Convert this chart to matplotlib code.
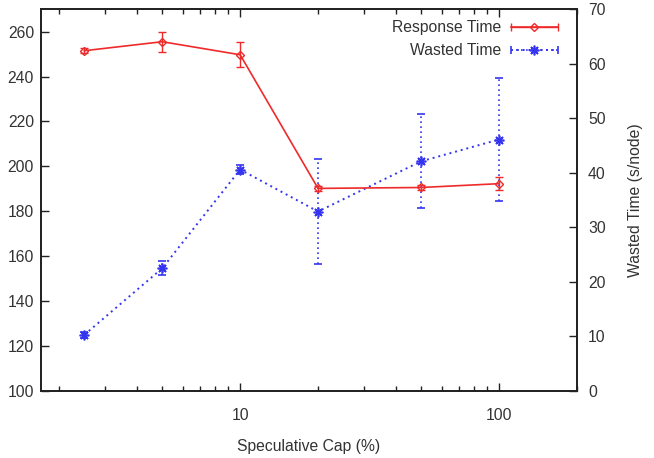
import matplotlib
matplotlib.use("Agg")
import numpy as np
import matplotlib.pyplot as plt
from matplotlib.ticker import LogLocator, FixedLocator, NullFormatter, FixedFormatter
from matplotlib.legend_handler import HandlerErrorbar

plt.rcParams['font.family'] = ['Liberation Sans', 'DejaVu Sans']

caps = [2.5, 5, 10, 20, 50, 100]
response = [251.5, 255.5, 249.7, 190.2, 190.6, 192.3]
response_err = [1.2, 4.4, 5.5, 1.0, 1.0, 2.8]
wasted = [10.3, 22.5, 40.6, 32.9, 42.1, 46.1]
wasted_err = [0.6, 1.3, 0.8, 9.7, 8.6, 11.2]

red = '#ee2a2a'
blue = '#3535f0'
txt = '#333333'
dot = (0, (1, 2))
fs = 11.3

fig = plt.figure(figsize=(6.54, 4.58), dpi=100)
ax = fig.add_axes([0.0627, 0.1463, 0.8193, 0.8337])
ax2 = ax.twinx()

red_style = dict(color=red, lw=1.2, marker='D', ms=4, mfc='none', mec=red, mew=1.0,
                 capsize=3, capthick=1.0, elinewidth=1.0)
blue_style = dict(color=blue, lw=1.4, ls=dot, marker=(8, 2, 0), ms=7, mec=blue, mew=1.2,
                  capsize=3, capthick=1.0, elinewidth=1.2)

l1 = ax.errorbar(caps, response, yerr=response_err, **red_style)
l2 = ax2.errorbar(caps, wasted, yerr=wasted_err, **blue_style)
for bar in l2[2]:
    bar.set_linestyle(dot)

# legend handles drawn gnuplot-style (horizontal bar with end caps)
h1 = ax.errorbar([np.nan], [np.nan], xerr=[1], **red_style)
h2 = ax.errorbar([np.nan], [np.nan], xerr=[1], **blue_style)
for bar in h2[2]:
    bar.set_linestyle(dot)

ax.set_xscale('log')
ax.set_xlim(1.7, 200)
ax.set_ylim(100, 270)
ax2.set_ylim(0, 70)

ax.set_yticks([100, 120, 140, 160, 180, 200, 220, 240, 260])
ax2.set_yticks([0, 10, 20, 30, 40, 50, 60, 70])
ax.xaxis.set_major_locator(FixedLocator([10, 100]))
ax.xaxis.set_major_formatter(FixedFormatter(['10', '100']))
ax.xaxis.set_minor_locator(LogLocator(base=10, subs=range(2, 10)))
ax.xaxis.set_minor_formatter(NullFormatter())

for a in (ax, ax2):
    for s in a.spines.values():
        s.set_color('#222222')
        s.set_linewidth(1.3)

ax.tick_params(axis='x', which='both', direction='in', top=True, bottom=True,
               colors='#222222', labelcolor=txt, labelsize=fs, pad=12)
ax.tick_params(axis='x', which='major', length=6, width=1.0)
ax.tick_params(axis='x', which='minor', length=3.5, width=1.0)
ax.tick_params(axis='y', which='major', direction='in', left=True, right=False,
               length=6, width=1.0, colors='#222222', labelcolor=txt, labelsize=fs, pad=5)
ax2.tick_params(axis='y', which='major', direction='in', right=True, left=False,
                length=6, width=1.0, colors='#222222', labelcolor=txt, labelsize=fs, pad=8)
ax2.tick_params(axis='x', which='both', top=False, bottom=False)

ax.set_xlabel('Speculative Cap (%)', fontsize=fs, color=txt, labelpad=12)
ax2.set_ylabel('Wasted Time (s/node)', fontsize=fs, color=txt, labelpad=16)

ax2.set_zorder(1)
ax.set_zorder(2)
ax.patch.set_visible(False)

leg = ax.legend([h1, h2], ['Response Time', 'Wasted Time'], loc='upper right',
                bbox_to_anchor=(0.985, 1.0), frameon=False, markerfirst=False,
                fontsize=fs, handlelength=3.0, handletextpad=0.6, labelspacing=0.5,
                borderaxespad=0.3,
                handler_map={type(h1): HandlerErrorbar(xerr_size=1.5)})
for t in leg.get_texts():
    t.set_color(txt)

fig.savefig('out.png', dpi=100)
